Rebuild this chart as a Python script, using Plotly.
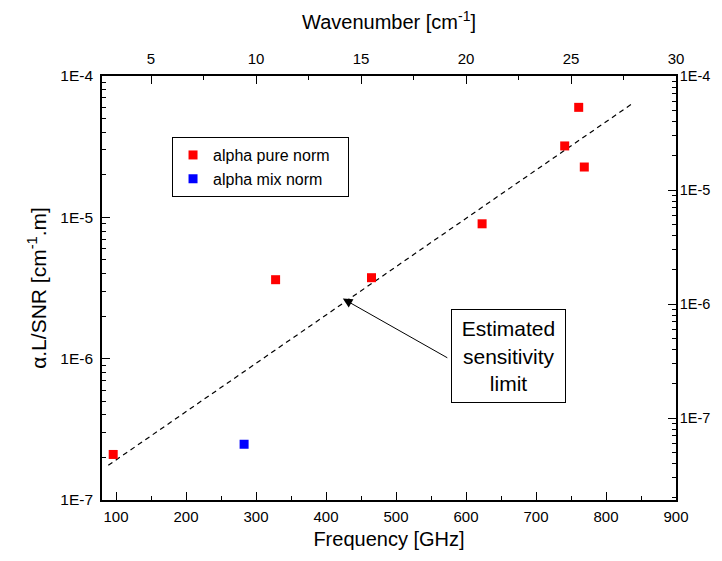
import plotly.graph_objects as go
import math

# ---- data ----
pure_freq = [96, 328, 465, 623, 741, 761, 769]
pure_val = [2.1e-7, 3.62e-6, 3.74e-6, 9.0e-6, 3.2e-5, 6.0e-5, 2.27e-5]
mix_freq = [283]
mix_val = [2.48e-7]
limit_freq = [89, 836]
limit_val = [1.76e-7, 6.3e-5]

left_tick_vals = [1e-7, 1e-6, 1e-5, 1e-4]
left_tick_text = ["1E-7", "1E-6", "1E-5", "1E-4"]
right_tick_vals = [1e-7, 1e-6, 1e-5, 1e-4]
right_tick_text = ["1E-7", "1E-6", "1E-5", "1E-4"]
wn_tick_vals = [5, 10, 15, 20, 25, 30]
ghz_per_wavenumber = 30.0
freq_range = [80, 900]
left_range = [1e-7, 1e-4]
right_range = [1.92e-8, 1e-4]
series_names = ["alpha pure norm", "alpha mix norm"]

FONT = "Liberation Sans, Arial, sans-serif"
PAD = "\u00a0\u00a0\u00a0"

fig = go.Figure()
fig.add_trace(go.Scatter(x=limit_freq, y=limit_val, mode="lines",
                         line=dict(color="black", width=1.2, dash="5px,4px"),
                         showlegend=False, hoverinfo="skip"))
fig.add_trace(go.Scatter(x=pure_freq, y=pure_val, mode="markers", name=series_names[0] + PAD,
                         marker=dict(symbol="square", color="#ff0000", size=9)))
fig.add_trace(go.Scatter(x=mix_freq, y=mix_val, mode="markers", name=series_names[1] + PAD,
                         marker=dict(symbol="square", color="#0000ff", size=9)))
# helper trace to create the secondary (top/right) axes
fig.add_trace(go.Scatter(x=[freq_range[0] / ghz_per_wavenumber], y=[right_range[1]],
                         xaxis="x2", yaxis="y2", mode="markers",
                         marker=dict(opacity=0), showlegend=False, hoverinfo="skip"))

axis_common = dict(showline=True, linecolor="black", linewidth=1.6, mirror=False,
                   ticks="inside", ticklen=8, tickwidth=1.3, tickcolor="black",
                   showgrid=False, zeroline=False, automargin=False)
xfont = dict(family=FONT, size=15, color="black")
yfont = dict(family=FONT, size=15.5, color="black")
y2font = dict(family=FONT, size=14.5, color="black")

fig.update_layout(
    width=706, height=545,
    margin=dict(l=94, r=38, t=68, b=53),
    paper_bgcolor="white", plot_bgcolor="white",
    font=dict(family=FONT, color="black"),
    xaxis=dict(axis_common, range=freq_range, dtick=100, tick0=0, tickfont=xfont,
               ticklabelstandoff=2,
               minor=dict(ticks="inside", ticklen=4, dtick=50, tickcolor="black", tickwidth=1.3),
               title=dict(text="Frequency [GHz]", font=dict(size=20), standoff=8)),
    xaxis2=dict(axis_common, overlaying="x", side="top", tickfont=xfont,
                ticklabelstandoff=4,
                range=[freq_range[0] / ghz_per_wavenumber, freq_range[1] / ghz_per_wavenumber],
                tickvals=wn_tick_vals,
                minor=dict(ticks="inside", ticklen=4, dtick=2.5, tick0=0, tickcolor="black", tickwidth=1.3),
                title=dict(text="Wavenumber [cm<sup>-1</sup>]", font=dict(size=20), standoff=18)),
    yaxis=dict(axis_common, type="log", tickfont=yfont, ticklabelstandoff=4,
               range=[math.log10(left_range[0]), math.log10(left_range[1])],
               tickvals=left_tick_vals, ticktext=left_tick_text,
               minor=dict(ticks="inside", ticklen=4, dtick="D1", tickcolor="black", tickwidth=1.3),
               title=dict(text="α.L/SNR [cm<sup>-1</sup>.m]", font=dict(size=21), standoff=8)),
    yaxis2=dict(axis_common, type="log", overlaying="y", side="right", tickfont=y2font,
                ticklabelstandoff=-1,
                range=[math.log10(right_range[0]), math.log10(right_range[1])],
                tickvals=right_tick_vals, ticktext=right_tick_text,
                minor=dict(ticks="inside", ticklen=4, dtick="D1", tickcolor="black", tickwidth=1.3)),
    legend=dict(x=0.122, y=0.856, xanchor="left", yanchor="top",
                bgcolor="white", bordercolor="black", borderwidth=1,
                font=dict(family=FONT, size=16, color="black"),
                tracegroupgap=0),
)

# arrow pointing at the estimated limit line
fig.add_annotation(x=424, y=math.log10(2.66e-6), xref="x", yref="y",
                   text="", showarrow=True, ax=106, ay=60,
                   arrowhead=2, arrowsize=1.9, arrowwidth=1, arrowcolor="black")
# text box
fig.add_annotation(x=660, y=math.log10(1.05e-6), xref="x", yref="y",
                   text="Estimated<br>sensitivity<br>limit", showarrow=False,
                   font=dict(family=FONT, size=21, color="black"),
                   bordercolor="black", borderwidth=1, borderpad=0,
                   width=113, height=92, bgcolor="white", align="center")

fig.write_html("out.html")
